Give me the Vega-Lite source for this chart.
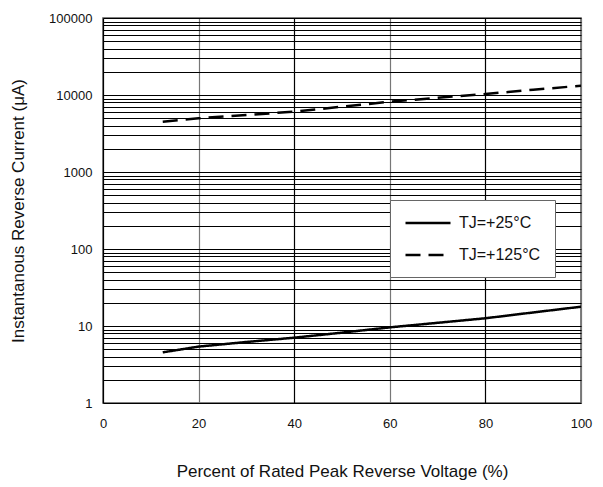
{
  "$schema": "https://vega.github.io/schema/vega-lite/v6.json",
  "width": 478,
  "height": 385,
  "autosize": {"type": "none"},
  "padding": {"left": 103, "top": 18, "right": 22, "bottom": 84},
  "background": "white",
  "config": {
    "font": "Liberation Sans",
    "view": {"stroke": "#555", "strokeWidth": 1.5},
    "axis": {"labelFont": "Liberation Sans", "titleFont": "Liberation Sans", "titleFontWeight": "normal", "labelColor": "#111", "titleColor": "#111"}
  },
  "data": {
    "values": [
      {"v": 12.5, "i": 4.55, "t": "TJ=+25°C"},
      {"v": 20, "i": 5.4, "t": "TJ=+25°C"},
      {"v": 30, "i": 6.2, "t": "TJ=+25°C"},
      {"v": 40, "i": 7.05, "t": "TJ=+25°C"},
      {"v": 50, "i": 8.2, "t": "TJ=+25°C"},
      {"v": 60, "i": 9.6, "t": "TJ=+25°C"},
      {"v": 70, "i": 11.0, "t": "TJ=+25°C"},
      {"v": 80, "i": 12.6, "t": "TJ=+25°C"},
      {"v": 90, "i": 15.0, "t": "TJ=+25°C"},
      {"v": 100, "i": 17.8, "t": "TJ=+25°C"},
      {"v": 12.5, "i": 4500, "t": "TJ=+125°C"},
      {"v": 20, "i": 4980, "t": "TJ=+125°C"},
      {"v": 30, "i": 5500, "t": "TJ=+125°C"},
      {"v": 40, "i": 6070, "t": "TJ=+125°C"},
      {"v": 50, "i": 7050, "t": "TJ=+125°C"},
      {"v": 60, "i": 8180, "t": "TJ=+125°C"},
      {"v": 70, "i": 9200, "t": "TJ=+125°C"},
      {"v": 80, "i": 10300, "t": "TJ=+125°C"},
      {"v": 90, "i": 11700, "t": "TJ=+125°C"},
      {"v": 100, "i": 13200, "t": "TJ=+125°C"}
    ]
  },
  "mark": {"type": "line", "color": "black", "strokeWidth": 2.5, "clip": true},
  "encoding": {
    "x": {
      "field": "v", "type": "quantitative",
      "scale": {"domain": [0, 100], "nice": false},
      "axis": {
        "title": "Percent of Rated Peak Reverse Voltage (%)",
        "values": [0, 20, 40, 60, 80, 100],
        "ticks": false, "domain": false,
        "labelFontSize": 13, "titleFontSize": 17,
        "labelPadding": 14, "titlePadding": 33,
        "labelFlush": false, "labelOverlap": false,
        "gridColor": {"condition": {"test": "datum.value % 40 == 20", "value": "#777"}, "value": "black"},
        "gridOpacity": 1, "gridWidth": 1.2
      }
    },
    "y": {
      "field": "i", "type": "quantitative",
      "scale": {"type": "log", "domain": [1, 100000], "nice": false},
      "axis": {
        "title": "Instantanous Reverse Current (μA)",
        "values": [1,2,3,4,5,6,7,8,9,10,20,30,40,50,60,70,80,90,100,200,300,400,500,600,700,800,900,1000,2000,3000,4000,5000,6000,7000,8000,9000,10000,20000,30000,40000,50000,60000,70000,80000,90000,100000],
        "format": "d",
        "labelExpr": "indexof(['1','10','100','1000','10000','100000'], datum.label) >= 0 ? datum.label : ''",
        "ticks": false, "domain": false,
        "labelFontSize": 13, "titleFontSize": 17,
        "labelPadding": 11, "titlePadding": 21,
        "labelFlush": false, "labelOverlap": false,
        "gridColor": "black", "gridOpacity": 1, "gridWidth": 1
      }
    },
    "strokeDash": {
      "field": "t", "type": "nominal",
      "scale": {"domain": ["TJ=+25°C", "TJ=+125°C"], "range": [[1, 0], [15, 8]]},
      "legend": {
        "title": null,
        "orient": "none",
        "legendX": 287,
        "legendY": 182,
        "padding": 14,
        "fillColor": "white",
        "strokeColor": "#666",
        "symbolType": "M-1,0H5",
        "symbolSize": 225,
        "symbolStrokeWidth": 2.5,
        "symbolStrokeColor": "black",
        "symbolDashOffset": 0,
        "labelOffset": 37,
        "labelFontSize": 16,
        "labelColor": "#111",
        "rowPadding": 15
      }
    }
  }
}
